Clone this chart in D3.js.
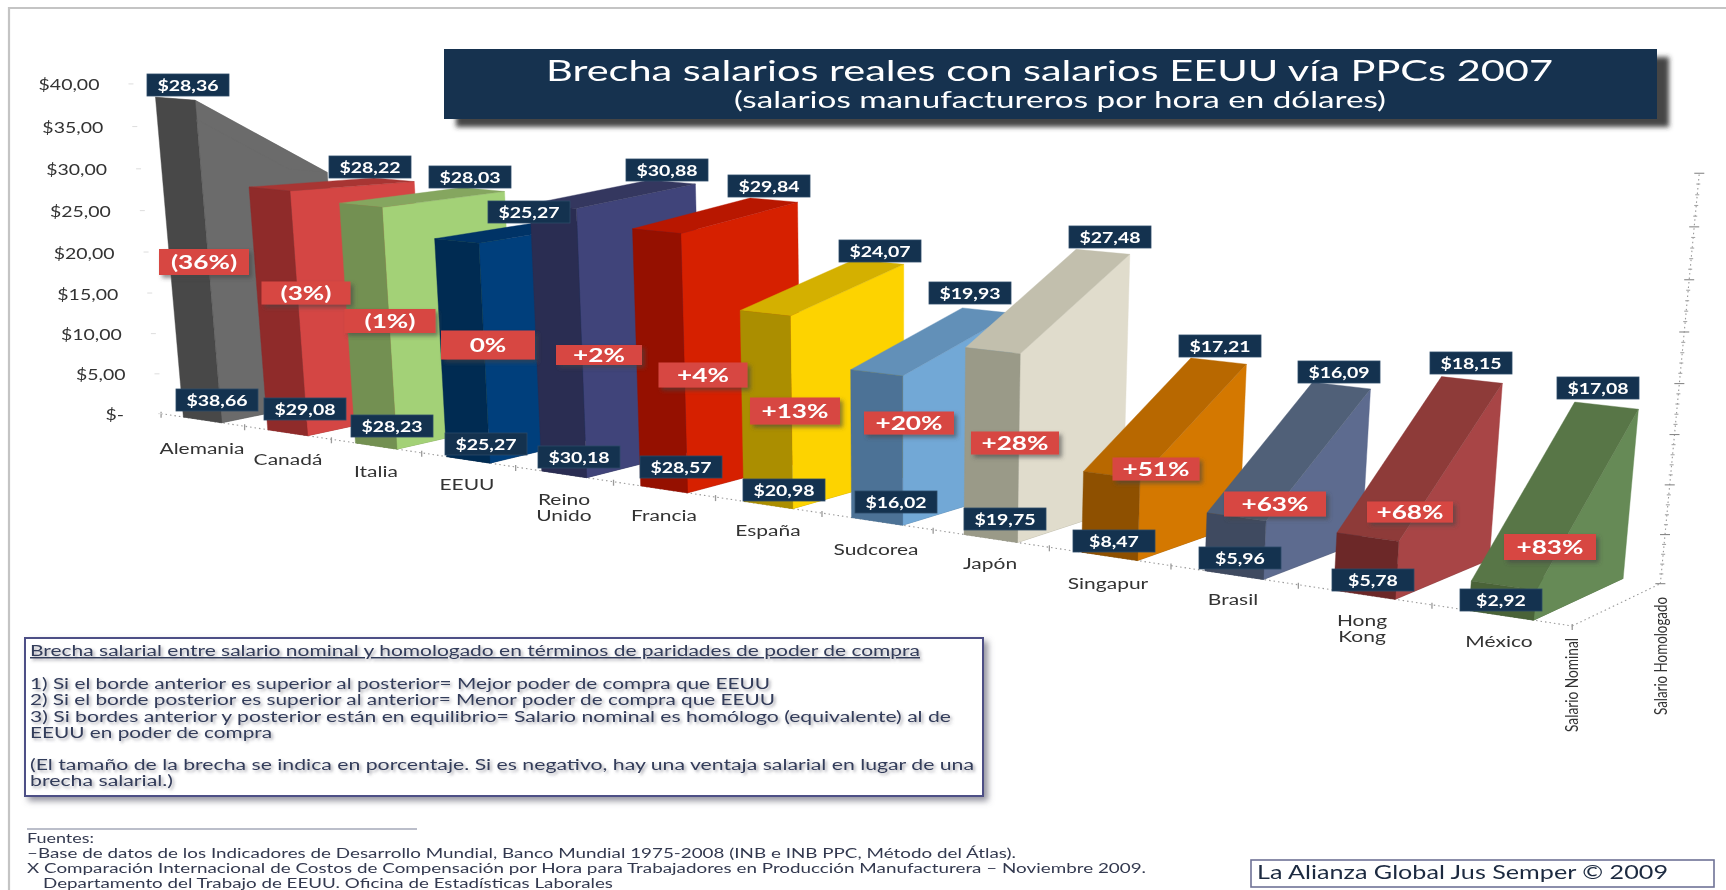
<!DOCTYPE html>
<html><head><meta charset="utf-8">
<script src="https://cdn.jsdelivr.net/npm/d3@7/dist/d3.min.js"></script>
<style>
html,body{margin:0;padding:0;background:#fff;overflow:hidden}
svg{display:block;filter:blur(.7px)}
text{font-family:Lato,"Open Sans",sans-serif}
</style></head><body>
<script>
// ---------- data ----------
const categories=["Alemania","Canadá","Italia","EEUU","Reino Unido","Francia","España","Sudcorea","Japón","Singapur","Brasil","Hong Kong","México"];
const salarioNominal=[38.66,29.08,28.23,25.27,30.18,28.57,20.98,16.02,19.75,8.47,5.96,5.78,2.92];
const salarioHomologado=[28.36,28.22,28.03,25.27,30.88,29.84,24.07,19.93,27.48,17.21,16.09,18.15,17.08];
const brecha=["(36%)","(3%)","(1%)","0%","+2%","+4%","+13%","+20%","+28%","+51%","+63%","+68%","+83%"];
const series=["Salario Nominal","Salario Homologado"];
const valueTicks=[0,5,10,15,20,25,30,35,40];

// ---------- styles ----------
const frontColors=["#484848","#8f2b2a","#739052","#002b52","#2a2d52","#951000","#ab8e00","#4c7296","#9a9a88","#8e5000","#3f4a60","#6c2828","#4a6338"];
const sideColors=["#6b6b6b","#d44644","#a3d177","#003f7c","#40447a","#d62000","#fdd300","#72a8d6","#e0dccc","#d47800","#5d6b8f","#a84546","#668a56"];
const topColors=["#6b6b6b","#a83533","#85a65f","#003366","#34375f","#b81700","#d4b000","#6290b8","#c2bfad","#b86800","#506078","#8e3b39","#587647"];
const navy="#14324f", red="#d74643";

// ---------- layout of the hand-placed callouts (pixels) ----------
const backLabelPos=[[188,85],[370,167],[470,177],[529,212],[667,170],[769,186],[880,251],[970,293],[1110,237],[1220,346],[1339,372],[1471,363],[1598,388]];
const frontLabelPos=[[217,400],[305,409],[392,426],[486,444],[579,457],[681,467],[784,490],[896,502],[1005,519],[1114,541],[1240,558],[1373,580],[1501,600]];
const gapLabelPos=[[204,262],[306,293],[390,321],[488,345],[599,355],[703,375],[795,411],[909,423],[1015,443],[1156,469],[1275,504],[1410,512],[1550,547]];
const gapLabelSize=[[90,26],[89,23],[91,24],[94,29],[86,20],[89,25],[90,27],[90,23],[88,23],[87,23],[102,25],[86,21],[92,26]];
const catLabelPos=[[202,449],[288,460],[376,472],[467,485],[564,500],[664,516],[768,531],[876,550],[990,564],[1108,584],[1233,600],[1362,621],[1499,642]];

// ---------- 3D scales: unit cube + a perspective camera fitted to the picture ----------
const W=1726,H=890;
const xIdx=d3.scaleLinear().domain([0,categories.length-1]).range([0,1]);
const yVal=d3.scaleLinear().domain([0,40]).range([0,1]);
const halfBar=0.23;
// [category index + offset, depth (0 front, 1 back), value, screen x, screen y]
const cameraAnchors=[
 [-.23,0,38.66,155,97],[.23,0,38.66,196,100],[-.23,0,0,182,417],[.23,0,0,222,422],
 [.77,1,28.22,373,178],[1.23,1,28.22,415,182],[.77,0,29.08,247,187],[1.23,0,29.08,292,191],[.77,0,0,266,430],[1.23,0,0,309,435],
 [4.77,0,28.57,631,229],[5.23,0,28.57,683,233],[4.77,1,29.84,750,198],[5.23,1,29.84,799,202],[5.23,0,0,690,492],[4.77,0,0,639,485],
 [7.77,0,19.75,963,347],[8.23,0,19.75,1022,353],[7.77,1,27.48,1073,249],[8.23,1,27.48,1131,255],[8.23,0,0,1020,542],[7.77,0,0,963,533],
 [8.77,0,8.47,1081,471],[9.23,0,8.47,1142,483],[8.77,1,17.21,1190,358],[9.23,1,17.21,1248,365],[8.77,0,0,1079,552],[9.23,0,0,1141,560],
 [11.77,0,0,1466,610],[12.23,0,0,1537,619],[12.23,1,0,1627,578],[12.23,1,17.08,1641,409],[11.77,1,17.08,1570,402],[11.77,0,2.92,1467,582],[12.23,0,2.92,1540,592],
 [12.5,1,40,1700,173],[12.5,1,0,1658,583],[12.5,0,0,1570,627],[-.5,0,0,162,416]
];
function fitCamera(a){
  const n=11,A=d3.range(n).map(()=>new Array(n+1).fill(0));
  const add=(r,b)=>{for(let i=0;i<n;i++){for(let j=0;j<n;j++)A[i][j]+=r[i]*r[j];A[i][n]+=r[i]*b;}};
  a.forEach(([c,d,v,x,y])=>{const U=xIdx(c),V=yVal(v),sx=x/1000,sy=y/1000;
    add([U,d,V,1,0,0,0,0,-sx*U,-sx*d,-sx*V],sx);
    add([0,0,0,0,U,d,V,1,-sy*U,-sy*d,-sy*V],sy);});
  for(let i=0;i<n;i++){let p=i;for(let k=i+1;k<n;k++)if(Math.abs(A[k][i])>Math.abs(A[p][i]))p=k;
    [A[i],A[p]]=[A[p],A[i]];
    for(let k=0;k<n;k++)if(k!==i){const f=A[k][i]/A[i][i];for(let j=i;j<=n;j++)A[k][j]-=f*A[i][j];}}
  return A.map((r,i)=>r[n]/r[i]);
}
const cam=fitCamera(cameraAnchors);
function project(c,d,v){
  const U=xIdx(c),V=yVal(v),w=cam[8]*U+cam[9]*d+cam[10]*V+1;
  return [1000*(cam[0]*U+cam[1]*d+cam[2]*V+cam[3])/w,1000*(cam[4]*U+cam[5]*d+cam[6]*V+cam[7])/w];
}
const poly=d3.line();

// ---------- drawing ----------
const svg=d3.select("body").append("svg").attr("width",W).attr("height",H);
const defs=svg.append("defs");
function shadow(id,dx,dy,s,col,op){
  defs.append("filter").attr("id",id).attr("x","-20%").attr("y","-40%").attr("width","150%").attr("height","200%")
   .append("feDropShadow").attr("dx",dx).attr("dy",dy).attr("stdDeviation",s).attr("flood-color",col).attr("flood-opacity",op);
}
shadow("sTitle",12,8,2.5,"#333",.9);
shadow("sRed",3,3,2,"#444",.6);
shadow("sBox",4,4,3,"#667",.7);
shadow("sText",2,2,1.6,"#556",.5);

// page frame
svg.append("path").attr("d",`M9,${H}V8H${W}`).attr("fill","none").attr("stroke","#c4c4c4").attr("stroke-width",2.2);

// stretched text helper: the reference is horizontally stretched
function stext(g,str,x,y,size,fill,sx,anchor,weight){
  return g.append("text").attr("transform",`translate(${x},${y}) scale(${sx},1)`)
    .attr("text-anchor",anchor||"middle").attr("font-size",size).attr("fill",fill).attr("font-weight",weight||400).text(str);
}
function ltext(g,str,x,y,size,fill,len){
  return g.append("text").attr("x",x).attr("y",y).attr("font-size",size).attr("fill",fill)
    .attr("textLength",len).attr("lengthAdjust","spacingAndGlyphs").text(str);
}

// title
const tg=svg.append("g");
tg.append("rect").attr("x",444).attr("y",49).attr("width",1213).attr("height",70).attr("fill",navy).attr("filter","url(#sTitle)");
ltext(tg,"Brecha salarios reales con salarios EEUU vía PPCs 2007",546,81,29,"#fff",1007);
ltext(tg,"(salarios manufactureros por hora en dólares)",734,108,23,"#fff",652);

// axis dots
const axes=svg.append("g").attr("fill","none").attr("stroke","#999");
const dotted=(a,b)=>axes.append("path").attr("d",poly([a,b])).attr("stroke-dasharray","1.5 3").attr("stroke-width",1.1);
dotted(project(-.5,0,0),project(12.5,0,0));
dotted(project(12.5,0,0),project(12.5,1,0));
dotted(project(12.5,1,0),project(12.5,1,40));
d3.range(-.5,13).forEach(c=>{const p=project(c,0,0);axes.append("path").attr("d",`M${p[0]},${p[1]-2}v6`).attr("stroke-width",1.3);});
d3.range(0,41).forEach(v=>{const p=project(12.5,1,v),L=v%5===0?5:2;
  axes.append("path").attr("d",`M${p[0]-L},${p[1]}h${2*L}`).attr("stroke-width",1.1).attr("stroke",v%5===0?"#888":"#a5a5a5");});

// value axis labels
const axisG=svg.append("g");
const fmtTick=v=>v===0?"$-":"$"+v.toFixed(2).replace(".",",");
valueTicks.forEach(v=>{
  const p=project(-.5,0,v);
  axes.append("path").attr("d",`M${p[0]-3},${p[1]}h5`).attr("stroke","#ddd");
  stext(axisG,fmtTick(v),v===0?p[0]-37:p[0]-32,p[1]+6.5,15,"#333",1.3,"end");
});

// bars
const bars=svg.append("g").selectAll("g").data(categories).join("g");
bars.each(function(c,i){
  const g=d3.select(this),n=salarioNominal[i],h=salarioHomologado[i],l=i-halfBar,r=i+halfBar;
  const face=(pts,col)=>g.append("path").attr("d",poly(pts)+"Z").attr("fill",col).attr("stroke",col).attr("stroke-width",.4);
  face([project(l,0,0),project(l,1,0),project(r,1,0),project(r,0,0)],frontColors[i]);
  face([project(r,0,0),project(r,1,0),project(r,1,h),project(r,0,n)],sideColors[i]);
  face([project(l,0,n),project(l,1,h),project(r,1,h),project(r,0,n)],topColors[i]);
  face([project(l,0,0),project(r,0,0),project(r,0,n),project(l,0,n)],frontColors[i]);
});

// callouts
const money=v=>"$"+v.toFixed(2).replace(".",",");
function valueLabel(g,pos,v){
  g.append("rect").attr("x",pos[0]-41).attr("y",pos[1]-11).attr("width",82).attr("height",22).attr("fill",navy).attr("stroke","#2c4a68").attr("stroke-width",.8);
  stext(g,money(v),pos[0],pos[1]+6,16,"#fff",1.22,"middle",700);
}
const vg=svg.append("g");
categories.forEach((c,i)=>{valueLabel(vg,backLabelPos[i],salarioHomologado[i]);valueLabel(vg,frontLabelPos[i],salarioNominal[i]);});
const rg=svg.append("g");
brecha.forEach((t,i)=>{const [x,y]=gapLabelPos[i],[w,h]=gapLabelSize[i];
  rg.append("rect").attr("x",x-w/2).attr("y",y-h/2).attr("width",w).attr("height",h).attr("fill",red).attr("filter","url(#sRed)");
  stext(rg,t,x,y+7,19,"#fff",1.38,"middle",700);
});

// category labels
const cg=svg.append("g");
categories.forEach((c,i)=>{const [x,y]=catLabelPos[i],parts=c.split(" ");
  if(c==="Reino Unido"||c==="Hong Kong"){parts.forEach((t,k)=>stext(cg,t,x,y+5+k*16,15,"#333",1.4));}
  else stext(cg,c,x,y+5,15,"#333",1.4);
});

// rotated series labels
function vlabel(t,x,yBottom,len){
  svg.append("text").attr("transform",`translate(${x},${yBottom}) rotate(-90)`).attr("font-size",17).attr("fill","#333")
   .attr("textLength",len).attr("lengthAdjust","spacingAndGlyphs").text(t);
}
vlabel(series[0],1578,732,94);
vlabel(series[1],1667,715,118);

// explanatory box
svg.append("rect").attr("x",25).attr("y",638).attr("width",958).attr("height",158).attr("fill","#fff").attr("stroke","#4d4f86").attr("stroke-width",2).attr("filter","url(#sBox)");
const note=svg.append("g").attr("filter","url(#sText)");
const noteInk="#333c5a";
ltext(note,"Brecha salarial entre salario nominal y homologado en términos de paridades de poder de compra",30,656,14.5,noteInk,890).attr("text-decoration","underline");
ltext(note,"1) Si el borde anterior es superior al posterior= Mejor poder de compra que EEUU",30,689,14.5,noteInk,740);
ltext(note,"2) Si el borde posterior es superior al anterior= Menor poder de compra que EEUU",30,705,14.5,noteInk,745);
ltext(note,"3) Si bordes anterior y posterior están en equilibrio=  Salario nominal es homólogo (equivalente) al de",30,722,14.5,noteInk,921);
ltext(note,"EEUU en poder de compra",30,738,14.5,noteInk,242);
ltext(note,"(El tamaño de la brecha se indica en porcentaje.  Si es negativo, hay una ventaja salarial en lugar de una",30,770,14.5,noteInk,944);
ltext(note,"brecha salarial.)",30,786,14.5,noteInk,143);

// sources
svg.append("line").attr("x1",27).attr("x2",417).attr("y1",829).attr("y2",829).attr("stroke","#a5a8b8").attr("stroke-width",1.6);
const foot=svg.append("g");
const footInk="#33394f";
ltext(foot,"Fuentes:",27,843,13.5,footInk,67);
ltext(foot,"–Base de datos de los Indicadores de Desarrollo Mundial, Banco Mundial 1975-2008 (INB e INB PPC, Método del Átlas).",27,858,13.5,footInk,989);
ltext(foot,"X Comparación Internacional de Costos de Compensación por Hora para Trabajadores en Producción Manufacturera – Noviembre 2009.",27,873,13.5,footInk,1119);
ltext(foot,"Departamento del Trabajo de EEUU. Oficina de Estadísticas Laborales",43,888,13.5,footInk,570);

// credit
svg.append("rect").attr("x",1251).attr("y",860).attr("width",463).attr("height",27).attr("fill","#fff").attr("stroke","#6f7296").attr("stroke-width",1.6);
ltext(svg,"La Alianza Global Jus Semper © 2009",1257,879,19,"#1c2a40",411);
</script>
</body></html>
